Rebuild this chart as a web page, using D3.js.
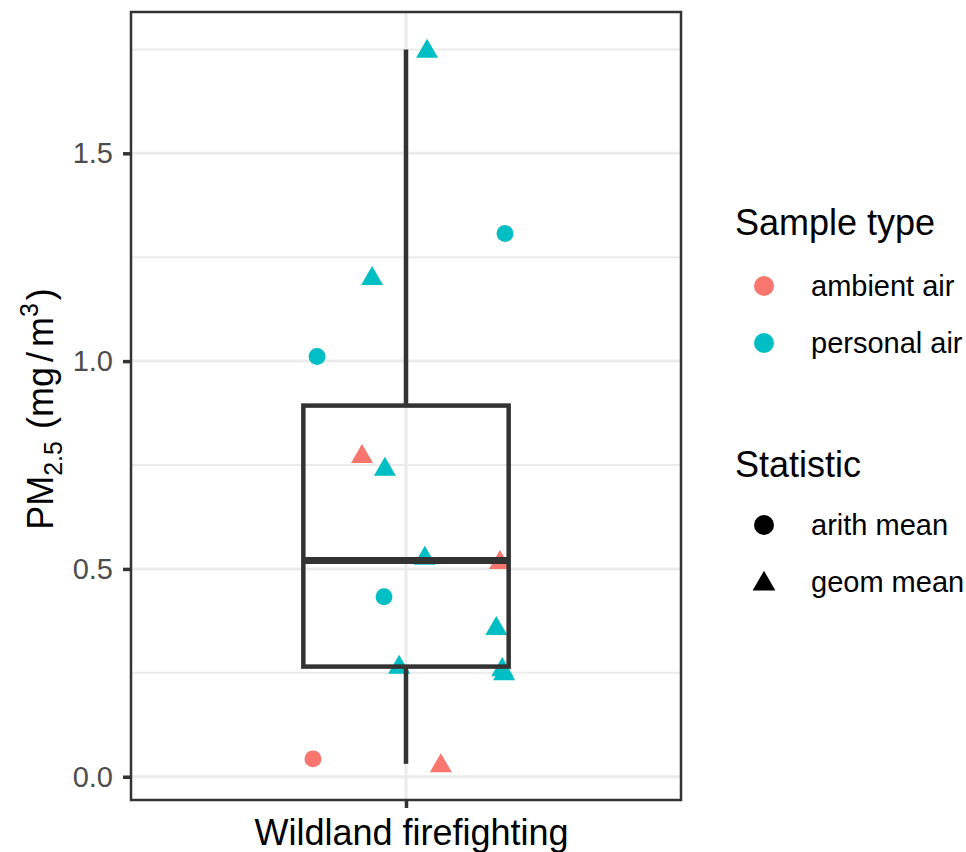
<!DOCTYPE html>
<html>
<head>
<meta charset="utf-8">
<script src="https://cdn.jsdelivr.net/npm/d3@7"></script>
<style>
  body { margin: 0; background: #fff; }
  text { font-family: "Liberation Sans", Arial, Helvetica, sans-serif; }
</style>
</head>
<body>
<div id="my_dataviz"></div>
<script>
// data
var category = "Wildland firefighting";
var pm25 = [1.75, 1.307, 1.203, 1.011, 0.775, 0.744, 0.53, 0.52, 0.433, 0.361, 0.268, 0.262, 0.252, 0.043, 0.031];
var jitterX = [1.046, 1.216, 0.926, 0.806, 0.904, 0.954, 1.041, 1.205, 0.952, 1.197, 0.985, 1.21, 1.214, 0.797, 1.076];
var sampleType = ["personal air", "personal air", "personal air", "personal air", "ambient air", "personal air", "personal air", "ambient air",
    "personal air", "personal air", "personal air", "personal air", "personal air", "ambient air", "ambient air"];
var statistic = ["geom mean", "arith mean", "geom mean", "arith mean", "geom mean", "geom mean", "geom mean", "geom mean",
    "arith mean", "geom mean", "geom mean", "geom mean", "geom mean", "arith mean", "geom mean"];
var yTicks = [0, 0.5, 1.0, 1.5];
var yMinor = [0.25, 0.75, 1.25, 1.75];
var sampleKeys = ["ambient air", "personal air"];
var statKeys = ["arith mean", "geom mean"];

var W = 966, H = 852;
var panel = { left: 131, top: 12, right: 681, bottom: 800 };

var svg = d3.select("#my_dataviz")
    .append("svg")
    .attr("width", W)
    .attr("height", H);

var x = d3.scaleLinear().domain([0.4, 1.6]).range([panel.left, panel.right]);
var y = d3.scaleLinear().domain([-0.056, 1.84]).range([panel.bottom, panel.top]);

var color = d3.scaleOrdinal().domain(sampleKeys).range(["#F8766D", "#00BFC4"]);
var shape = d3.scaleOrdinal().domain(statKeys).range([d3.symbolCircle, d3.symbolTriangle]);
var symSize = d3.scaleOrdinal().domain(statKeys).range([225, 210]);
var keySize = d3.scaleOrdinal().domain(statKeys).range([314, 225]);

/*********************
 * GRIDLINES
*********************/
svg.append("g").selectAll("line.minor")
    .data(yMinor).enter().append("line")
    .attr("x1", panel.left).attr("x2", panel.right)
    .attr("y1", function (d) { return y(d) }).attr("y2", function (d) { return y(d) })
    .style("stroke", "#EBEBEB").style("stroke-width", 2);
svg.append("g").selectAll("line.major")
    .data(yTicks).enter().append("line")
    .attr("x1", panel.left).attr("x2", panel.right)
    .attr("y1", function (d) { return y(d) }).attr("y2", function (d) { return y(d) })
    .style("stroke", "#EBEBEB").style("stroke-width", 3);
svg.append("line")
    .attr("x1", x(1)).attr("x2", x(1))
    .attr("y1", panel.top).attr("y2", panel.bottom)
    .style("stroke", "#EBEBEB").style("stroke-width", 3);

/*********************
 * POINTS
*********************/
var data = pm25.map(function (v, i) {
    return { value: v, jx: jitterX[i], type: sampleType[i], stat: statistic[i] };
});
svg.append("g").selectAll("path")
    .data(data).enter().append("path")
    .attr("transform", function (d) {
        var dy = d.stat == "geom mean" ? 2 : 0;
        return "translate(" + x(d.jx) + "," + (y(d.value) + dy) + ")";
    })
    .attr("d", function (d) { return d3.symbol().type(shape(d.stat)).size(symSize(d.stat))(); })
    .style("fill", function (d) { return color(d.type) });

/*********************
 * BOXPLOT
*********************/
var sorted = pm25.slice().sort(d3.ascending);
var q1 = d3.quantile(sorted, 0.25), med = d3.quantile(sorted, 0.5), q3 = d3.quantile(sorted, 0.75);
var iqr = q3 - q1;
var lo = d3.min(sorted.filter(function (v) { return v >= q1 - 1.5 * iqr }));
var hi = d3.max(sorted.filter(function (v) { return v <= q3 + 1.5 * iqr }));
var bw = 0.224;
var box = svg.append("g").style("stroke", "#333333").style("fill", "none");
box.append("line").attr("x1", x(1)).attr("x2", x(1)).attr("y1", y(hi)).attr("y2", y(q3)).style("stroke-width", 4.5);
box.append("line").attr("x1", x(1)).attr("x2", x(1)).attr("y1", y(q1)).attr("y2", y(lo)).style("stroke-width", 4.5);
box.append("rect")
    .attr("x", x(1 - bw)).attr("width", x(1 + bw) - x(1 - bw))
    .attr("y", y(q3)).attr("height", y(q1) - y(q3))
    .style("stroke-width", 4.5);
box.append("line").attr("x1", x(1 - bw)).attr("x2", x(1 + bw)).attr("y1", y(med)).attr("y2", y(med)).style("stroke-width", 7);

// panel border
svg.append("rect")
    .attr("x", panel.left).attr("y", panel.top)
    .attr("width", panel.right - panel.left).attr("height", panel.bottom - panel.top)
    .style("fill", "none").style("stroke", "#333333").style("stroke-width", 2.5);

/*********************
 * AXES
*********************/
var yAxis = svg.append("g")
    .attr("transform", "translate(" + panel.left + ",0)")
    .call(d3.axisLeft(y).tickValues(yTicks).tickFormat(d3.format(".1f")).tickSize(8).tickPadding(10));
yAxis.select(".domain").remove();
yAxis.selectAll(".tick line").style("stroke", "#333333").style("stroke-width", 3.5);
yAxis.selectAll(".tick text").style("font-size", "29px").style("fill", "#4D4D4D")
    .style("font-family", "'Liberation Sans', Arial, sans-serif");

var xAxis = svg.append("g")
    .attr("transform", "translate(0," + panel.bottom + ")")
    .call(d3.axisBottom(x).tickValues([1]).tickFormat(function () { return category }).tickSize(8).tickPadding(11));
xAxis.select(".domain").remove();
xAxis.selectAll(".tick line").style("stroke", "#333333").style("stroke-width", 3.5);
xAxis.selectAll(".tick text").attr("dx", 5).style("font-size", "36px").style("fill", "#000")
    .style("font-family", "'Liberation Sans', Arial, sans-serif");

// y axis title
var ylab = svg.append("text")
    .attr("transform", "translate(53," + 409 + ") rotate(-90)")
    .style("text-anchor", "middle")
    .style("font-size", "36px")
    .style("fill", "#000");
ylab.append("tspan").text("PM");
ylab.append("tspan").attr("dy", 9).style("font-size", "25px").text("2.5");
ylab.append("tspan").attr("dy", -9).attr("dx", 2).text(" (mg");
ylab.append("tspan").attr("dx", 5).text("/");
ylab.append("tspan").attr("dx", 5).text("m");
ylab.append("tspan").attr("dy", -15).style("font-size", "25px").text("3");
ylab.append("tspan").attr("dy", 15).attr("dx", 3).text(")");

/*********************
 * LEGEND
*********************/
svg.append("text").attr("x", 735).attr("y", 235).style("font-size", "36px").text("Sample type");
svg.selectAll("mydots")
    .data(sampleKeys).enter().append("path")
    .attr("transform", function (d, i) { return "translate(764," + (286 + i * 57) + ")" })
    .attr("d", d3.symbol().type(d3.symbolCircle).size(314)())
    .style("fill", function (d) { return color(d) });
svg.selectAll("mylabels")
    .data(sampleKeys).enter().append("text")
    .attr("x", 811).attr("y", function (d, i) { return 286 + i * 57 })
    .attr("dy", "0.35em")
    .style("font-size", "29px")
    .text(function (d) { return d });

svg.append("text").attr("x", 735).attr("y", 477).style("font-size", "36px").text("Statistic");
svg.selectAll("myshapes")
    .data(statKeys).enter().append("path")
    .attr("transform", function (d, i) { return "translate(764," + (525 + i * 57 + (i == 1 ? 2 : 0)) + ")" })
    .attr("d", function (d) { return d3.symbol().type(shape(d)).size(keySize(d))(); })
    .style("fill", "#000");
svg.selectAll("mystatlabels")
    .data(statKeys).enter().append("text")
    .attr("x", 811).attr("y", function (d, i) { return 525 + i * 57 })
    .attr("dy", "0.35em")
    .style("font-size", "29px")
    .text(function (d) { return d });
</script>
</body>
</html>
